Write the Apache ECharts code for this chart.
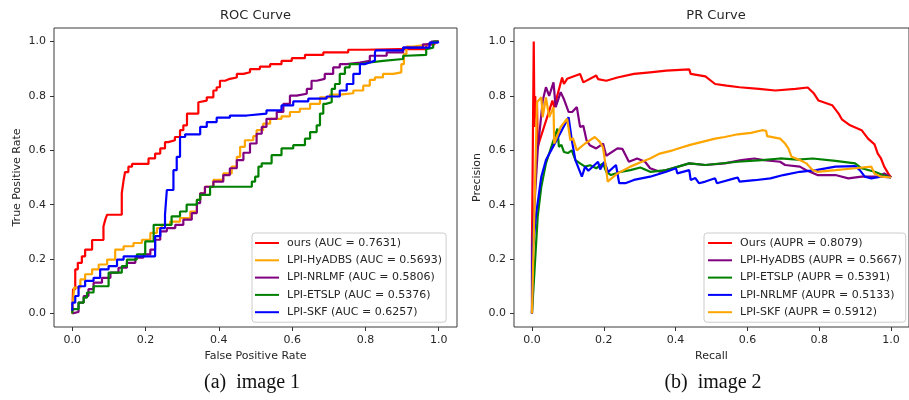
<!DOCTYPE html>
<html>
<head>
<meta charset="utf-8">
<script src="https://cdn.jsdelivr.net/npm/echarts@6/dist/echarts.min.js"></script>
<style>
  html, body { margin: 0; background: #fff; }
  #box { width: 909px; height: 400px; }
</style>
</head>
<body>
<div id="box"></div>
<script>
// tick positions shared by both panels
const tickValues = [0, 0.2, 0.4, 0.6, 0.8, 1.0];

// ROC curves: [false positive rate, true positive rate]
const rocNames = ['ours (AUC = 0.7631)', 'LPI-HyADBS (AUC = 0.5693)', 'LPI-NRLMF (AUC = 0.5806)', 'LPI-ETSLP (AUC = 0.5376)', 'LPI-SKF (AUC = 0.6257)'];
const rocOurs = [[0,0],[0.002,0.004],[0.008,0.089],[0.015,0.162],[0.026,0.186],[0.035,0.21],[0.054,0.235],[0.063,0.27],[0.085,0.27],[0.09,0.32],[0.095,0.345],[0.104,0.363],[0.135,0.363],[0.14,0.442],[0.144,0.49],[0.153,0.52],[0.163,0.54],[0.176,0.55],[0.208,0.55],[0.226,0.57],[0.24,0.588],[0.253,0.607],[0.262,0.63],[0.28,0.637],[0.294,0.649],[0.303,0.674],[0.313,0.692],[0.322,0.735],[0.344,0.735],[0.349,0.777],[0.367,0.783],[0.385,0.795],[0.394,0.82],[0.403,0.832],[0.417,0.856],[0.43,0.863],[0.449,0.868],[0.467,0.881],[0.485,0.887],[0.499,0.899],[0.512,0.899],[0.54,0.908],[0.571,0.917],[0.599,0.929],[0.635,0.939],[0.685,0.951],[0.753,0.96],[0.798,0.97],[0.894,0.972],[0.966,0.972],[0.989,0.99],[1,1]];
const rocHyADBS = [[0,0],[0.005,0.01],[0.022,0.095],[0.035,0.125],[0.054,0.144],[0.072,0.162],[0.095,0.18],[0.117,0.198],[0.14,0.235],[0.167,0.247],[0.19,0.259],[0.213,0.271],[0.231,0.296],[0.244,0.314],[0.267,0.326],[0.294,0.338],[0.322,0.351],[0.34,0.375],[0.349,0.418],[0.362,0.442],[0.385,0.466],[0.412,0.491],[0.435,0.515],[0.449,0.54],[0.458,0.576],[0.471,0.613],[0.494,0.637],[0.503,0.652],[0.521,0.674],[0.54,0.698],[0.571,0.716],[0.594,0.725],[0.621,0.741],[0.649,0.753],[0.676,0.771],[0.703,0.795],[0.73,0.805],[0.767,0.81],[0.794,0.82],[0.812,0.838],[0.826,0.859],[0.848,0.868],[0.876,0.881],[0.898,0.887],[0.905,0.917],[0.912,0.954],[0.93,0.982],[0.966,0.988],[0.99,0.995],[1,1]];
const rocNRLMF = [[0,0],[0.017,0.005],[0.031,0.04],[0.044,0.064],[0.058,0.089],[0.081,0.113],[0.104,0.131],[0.126,0.15],[0.149,0.168],[0.172,0.186],[0.194,0.205],[0.213,0.217],[0.226,0.235],[0.24,0.271],[0.258,0.302],[0.281,0.314],[0.303,0.326],[0.326,0.345],[0.34,0.369],[0.349,0.406],[0.362,0.442],[0.385,0.466],[0.412,0.485],[0.43,0.509],[0.449,0.534],[0.467,0.564],[0.485,0.591],[0.503,0.625],[0.517,0.661],[0.53,0.686],[0.558,0.716],[0.576,0.741],[0.594,0.771],[0.612,0.801],[0.64,0.808],[0.653,0.826],[0.667,0.856],[0.689,0.863],[0.712,0.881],[0.73,0.905],[0.749,0.917],[0.785,0.923],[0.812,0.929],[0.858,0.948],[0.903,0.96],[0.957,0.978],[0.98,0.99],[1,1]];
const rocETSLP = [[0,0],[0.017,0.016],[0.031,0.04],[0.04,0.058],[0.058,0.077],[0.058,0.1],[0.099,0.1],[0.099,0.137],[0.135,0.15],[0.149,0.174],[0.176,0.198],[0.199,0.217],[0.222,0.265],[0.271,0.326],[0.294,0.357],[0.312,0.375],[0.34,0.4],[0.349,0.418],[0.376,0.436],[0.49,0.466],[0.499,0.485],[0.508,0.503],[0.517,0.54],[0.544,0.552],[0.571,0.582],[0.603,0.607],[0.635,0.619],[0.649,0.643],[0.667,0.667],[0.676,0.692],[0.685,0.735],[0.692,0.771],[0.708,0.777],[0.717,0.826],[0.73,0.844],[0.744,0.881],[0.757,0.905],[0.785,0.917],[0.812,0.923],[0.848,0.929],[0.903,0.936],[0.912,0.948],[0.966,0.951],[0.971,0.972],[0.985,0.978],[1,1]];
const rocSKF = [[0,0.01],[0.008,0.04],[0.017,0.064],[0.035,0.1],[0.058,0.12],[0.076,0.131],[0.099,0.162],[0.122,0.174],[0.14,0.198],[0.167,0.21],[0.226,0.21],[0.24,0.284],[0.253,0.314],[0.258,0.363],[0.276,0.454],[0.285,0.527],[0.294,0.576],[0.308,0.649],[0.322,0.659],[0.349,0.659],[0.367,0.686],[0.394,0.704],[0.43,0.72],[0.476,0.728],[0.53,0.735],[0.571,0.747],[0.603,0.765],[0.644,0.78],[0.694,0.79],[0.73,0.798],[0.749,0.82],[0.767,0.844],[0.785,0.881],[0.798,0.917],[0.812,0.923],[0.826,0.93],[0.828,0.96],[0.903,0.968],[0.975,0.978],[0.997,0.996],[1,1]];

// PR curves: [recall, precision]
const prNames = ['Ours (AUPR = 0.8079)', 'LPI-HyADBS (AUPR = 0.5667)', 'LPI-ETSLP (AUPR = 0.5391)', 'LPI-NRLMF (AUPR = 0.5133)', 'LPI-SKF (AUPR = 0.5912)'];
const prOurs = [[0,0.25],[0.005,1.0],[0.007,0.686],[0.009,0.8],[0.012,0.72],[0.014,0.78],[0.016,0.613],[0.057,0.783],[0.062,0.759],[0.084,0.868],[0.089,0.844],[0.098,0.863],[0.134,0.881],[0.143,0.85],[0.179,0.875],[0.184,0.862],[0.207,0.856],[0.238,0.868],[0.284,0.881],[0.329,0.887],[0.374,0.893],[0.438,0.898],[0.442,0.881],[0.483,0.872],[0.51,0.844],[0.542,0.838],[0.578,0.832],[0.632,0.826],[0.678,0.82],[0.734,0.826],[0.768,0.831],[0.784,0.811],[0.798,0.783],[0.836,0.766],[0.854,0.735],[0.863,0.714],[0.886,0.692],[0.918,0.674],[0.936,0.643],[0.954,0.622],[0.963,0.588],[0.972,0.57],[0.981,0.54],[0.992,0.515],[1,0.5]];
const prHyADBS = [[0,0],[0,0.247],[0.016,0.6],[0.03,0.783],[0.039,0.832],[0.048,0.8],[0.06,0.85],[0.066,0.759],[0.08,0.814],[0.09,0.785],[0.102,0.741],[0.112,0.741],[0.125,0.759],[0.134,0.686],[0.143,0.69],[0.152,0.637],[0.161,0.619],[0.179,0.607],[0.198,0.625],[0.207,0.58],[0.238,0.607],[0.252,0.605],[0.27,0.558],[0.293,0.57],[0.315,0.558],[0.329,0.534],[0.356,0.521],[0.392,0.534],[0.438,0.552],[0.483,0.546],[0.537,0.552],[0.583,0.564],[0.619,0.57],[0.646,0.564],[0.691,0.558],[0.705,0.546],[0.746,0.54],[0.764,0.527],[0.795,0.509],[0.845,0.509],[0.881,0.497],[0.918,0.503],[0.963,0.503],[0.981,0.515],[1,0.5]];
const prETSLP = [[0,0],[0.016,0.357],[0.026,0.466],[0.039,0.552],[0.057,0.625],[0.071,0.68],[0.075,0.613],[0.082,0.62],[0.089,0.594],[0.1,0.59],[0.111,0.6],[0.121,0.564],[0.134,0.552],[0.148,0.54],[0.162,0.545],[0.179,0.534],[0.198,0.552],[0.207,0.521],[0.22,0.509],[0.247,0.521],[0.274,0.527],[0.302,0.537],[0.329,0.521],[0.374,0.527],[0.438,0.552],[0.483,0.546],[0.573,0.558],[0.641,0.564],[0.691,0.57],[0.74,0.566],[0.782,0.57],[0.845,0.561],[0.9,0.552],[0.918,0.534],[0.954,0.521],[0.977,0.509],[1,0.5]];
const prNRLMF = [[0,0],[0.003,0.247],[0.012,0.369],[0.026,0.503],[0.039,0.564],[0.066,0.631],[0.102,0.722],[0.111,0.637],[0.121,0.564],[0.139,0.503],[0.148,0.54],[0.157,0.525],[0.184,0.558],[0.19,0.53],[0.202,0.558],[0.212,0.52],[0.234,0.546],[0.243,0.479],[0.26,0.479],[0.284,0.491],[0.329,0.503],[0.374,0.521],[0.401,0.534],[0.405,0.515],[0.438,0.527],[0.442,0.491],[0.455,0.498],[0.465,0.479],[0.483,0.485],[0.51,0.497],[0.515,0.479],[0.564,0.497],[0.573,0.5],[0.578,0.485],[0.62,0.49],[0.664,0.497],[0.7,0.509],[0.746,0.521],[0.791,0.527],[0.845,0.54],[0.9,0.542],[0.913,0.527],[0.927,0.503],[0.945,0.497],[0.972,0.503],[1,0.5]];
const prSKF = [[0,0],[0.014,0.777],[0.026,0.795],[0.03,0.722],[0.039,0.795],[0.048,0.722],[0.06,0.759],[0.062,0.625],[0.08,0.686],[0.098,0.716],[0.107,0.637],[0.114,0.645],[0.125,0.6],[0.148,0.625],[0.175,0.649],[0.189,0.631],[0.198,0.61],[0.207,0.527],[0.211,0.485],[0.238,0.515],[0.274,0.54],[0.306,0.558],[0.329,0.57],[0.356,0.588],[0.392,0.6],[0.438,0.619],[0.474,0.631],[0.51,0.643],[0.537,0.649],[0.573,0.659],[0.61,0.664],[0.641,0.674],[0.652,0.672],[0.655,0.652],[0.691,0.643],[0.705,0.625],[0.714,0.607],[0.723,0.576],[0.746,0.564],[0.764,0.552],[0.782,0.527],[0.795,0.521],[0.845,0.527],[0.9,0.534],[0.945,0.54],[0.954,0.515],[0.972,0.503],[1,0.5]];

const rocData = [rocOurs, rocHyADBS, rocNRLMF, rocETSLP, rocSKF];
const rocColors = ['#ff0000', '#ffa500', '#800080', '#008000', '#0000ff'];
const prData = [prOurs, prHyADBS, prETSLP, prNRLMF, prSKF];
const prColors = ['#ff0000', '#800080', '#008000', '#0000ff', '#ffa500'];

const FONT = 'DejaVu Sans';
const TXT = '#262626';

function makeX(idx, name) {
  return {
    type: 'value', gridIndex: idx, min: -0.05, max: 1.05,
    name: name, nameLocation: 'middle', nameGap: 23,
    nameTextStyle: { fontFamily: FONT, fontSize: 11, color: TXT },
    axisLine: { show: false, onZero: false },
    axisTick: { show: true, length: 4, customValues: tickValues, lineStyle: { color: '#333' } },
    axisLabel: { customValues: tickValues, margin: 8, fontFamily: FONT, fontSize: 11, color: TXT,
      formatter: v => v.toFixed(1) },
    splitLine: { show: false }
  };
}
function makeY(idx, name, gap) {
  return {
    type: 'value', gridIndex: idx, min: -0.05, max: 1.05,
    name: name, nameLocation: 'middle', nameGap: gap,
    nameTextStyle: { fontFamily: FONT, fontSize: 11, color: TXT },
    axisLine: { show: false, onZero: false },
    axisTick: { show: true, length: 4, customValues: tickValues, lineStyle: { color: '#333' } },
    axisLabel: { customValues: tickValues, margin: 8, fontFamily: FONT, fontSize: 11, color: TXT,
      formatter: v => v.toFixed(1) },
    splitLine: { show: false }
  };
}
function makeLegend(names, left, pad) {
  return {
    orient: 'vertical', left: left, top: 233,
    data: names, icon: 'rect', itemWidth: 24, itemHeight: 2,
    itemGap: 3.3, padding: pad,
    backgroundColor: 'rgba(255,255,255,0.85)', borderColor: '#cccccc', borderWidth: 1, borderRadius: 3,
    textStyle: { fontFamily: FONT, fontSize: 11, color: TXT, lineHeight: 14, padding: [0, 0, 0, 3] },
    selectedMode: false
  };
}

const series = [];
rocData.forEach((d, i) => series.push({
  name: rocNames[i], type: 'line', xAxisIndex: 0, yAxisIndex: 0, data: d,
  step: 'start', showSymbol: false, lineStyle: { width: 2.2, color: rocColors[i] }, itemStyle: { color: rocColors[i] }
}));
prData.forEach((d, i) => series.push({
  name: prNames[i], type: 'line', xAxisIndex: 1, yAxisIndex: 1, data: d,
  showSymbol: false, lineStyle: { width: 2.2, color: prColors[i] }, itemStyle: { color: prColors[i] }
}));

const chart = echarts.init(document.getElementById('box'), null, { renderer: 'canvas' });
chart.setOption({
  animation: false,
  backgroundColor: '#fff',
  grid: [
    { left: 54, top: 28, width: 403, height: 299, show: true, borderColor: '#3a3a3a', borderWidth: 1, backgroundColor: 'transparent' },
    { left: 514, top: 28, width: 404, height: 299, show: true, borderColor: '#3a3a3a', borderWidth: 1, backgroundColor: 'transparent' }
  ],
  xAxis: [makeX(0, 'False Positive Rate'), makeX(1, 'Recall')],
  yAxis: [makeY(0, 'True Positive Rate', 31), makeY(1, 'Precision', 31)],
  legend: [makeLegend(rocNames, 252, [3, 4, 3, 3]), makeLegend(prNames, 704, [3, 4, 3, 4])],
  series: series,
  graphic: [
    { type: 'text', x: 255.5, y: 15.5, style: { text: 'ROC Curve', font: '13px "DejaVu Sans"', fill: TXT, align: 'center', verticalAlign: 'middle' } },
    { type: 'text', x: 716, y: 15.5, style: { text: 'PR Curve', font: '13px "DejaVu Sans"', fill: TXT, align: 'center', verticalAlign: 'middle' } },
    { type: 'text', x: 252, y: 383, style: { text: '(a)  image 1', font: '20px "Liberation Serif"', fill: '#111', align: 'center', verticalAlign: 'middle' } },
    { type: 'text', x: 713, y: 383, style: { text: '(b)  image 2', font: '20px "Liberation Serif"', fill: '#111', align: 'center', verticalAlign: 'middle' } }
  ]
});
</script>
</body>
</html>
